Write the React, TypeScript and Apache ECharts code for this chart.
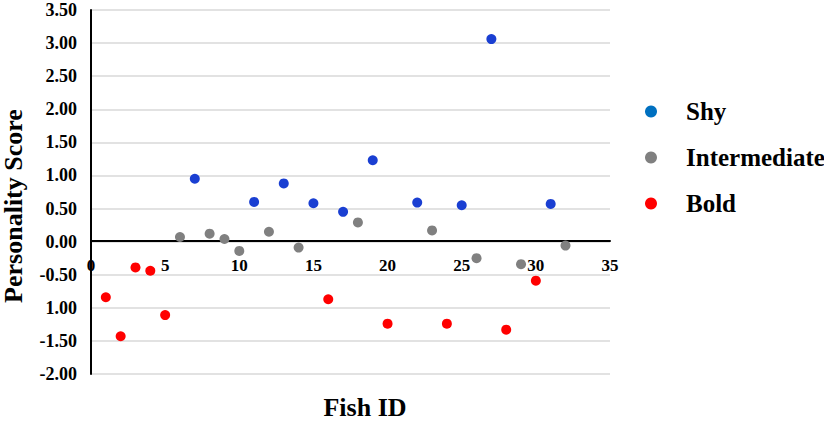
import React, { useEffect, useRef } from "react";
import * as echarts from "echarts";

const shyIds = [7, 11, 13, 15, 17, 19, 22, 25, 27, 31];
const shyScores = [0.95, 0.6, 0.88, 0.58, 0.45, 1.23, 0.59, 0.55, 3.06, 0.57];

const interIds = [6, 8, 9, 10, 12, 14, 18, 23, 26, 29, 32];
const interScores = [0.07, 0.12, 0.04, -0.14, 0.15, -0.09, 0.29, 0.17, -0.25, -0.34, -0.06];

const boldIds = [1, 2, 3, 4, 5, 16, 20, 24, 28, 30];
const boldScores = [-0.84, -1.43, -0.39, -0.44, -1.11, -0.87, -1.24, -1.24, -1.33, -0.59];

const seriesNames = ["Shy", "Intermediate", "Bold"];
const pointColors = ["#1a3fd2", "#808080", "#ff0000"];
const legendColors = ["#0070c0", "#808080", "#ff0000"];

const FONT = "Liberation Serif";

function pairs(ids: number[], vals: number[]) {
  return ids.map((id, i) => [id, vals[i]]);
}

export default function App() {
  const ref = useRef<HTMLDivElement>(null);
  useEffect(() => {
    document.body.style.margin = "0";
    if (!ref.current) return;
    const chart = echarts.init(ref.current, undefined, { renderer: "svg" });
    const data = [
      pairs(shyIds, shyScores),
      pairs(interIds, interScores),
      pairs(boldIds, boldScores),
    ];
    chart.setOption({
      animation: false,
      backgroundColor: "#ffffff",
      textStyle: { fontFamily: FONT },
      grid: { left: 91, right: 214, top: 10, bottom: 48 },
      xAxis: {
        type: "value",
        min: 0,
        max: 35,
        interval: 5,
        position: "bottom",
        offset: -133,
        axisLine: { show: true, onZero: false, lineStyle: { color: "#000", width: 2 } },
        axisTick: { show: false },
        splitLine: { show: false },
        axisLabel: {
          margin: 16,
          fontFamily: FONT,
          fontWeight: "bold",
          fontSize: 17,
          color: "#000",
        },
      },
      yAxis: {
        type: "value",
        min: -2,
        max: 3.5,
        interval: 0.5,
        axisLine: { show: true, onZero: false, lineStyle: { color: "#000", width: 2 } },
        axisTick: { show: false },
        splitLine: { show: true, lineStyle: { color: "#d9d9d9", width: 1.5 } },
        axisLabel: {
          margin: 14,
          fontFamily: FONT,
          fontWeight: "bold",
          fontSize: 18,
          color: "#000",
          formatter: (v: number) => (Math.abs(v + 1) < 1e-9 ? "1.00" : v.toFixed(2)),
        },
      },
      legend: {
        orient: "vertical",
        left: 640,
        top: 94,
        icon: "circle",
        itemWidth: 12,
        itemHeight: 12,
        itemGap: 21,
        textStyle: {
          fontFamily: FONT,
          fontWeight: "bold",
          fontSize: 25,
          color: "#000",
          padding: [0, 0, 0, 24],
        },
        data: seriesNames.map((n, i) => ({ name: n, itemStyle: { color: legendColors[i] } })),
      },
      graphic: [
        {
          type: "text",
          x: 13,
          y: 206,
          rotation: Math.PI / 2,
          style: {
            text: "Personality Score",
            fontFamily: FONT,
            fontWeight: "bold",
            fontSize: 26,
            fill: "#000",
            align: "center",
            verticalAlign: "middle",
          },
        },
        {
          type: "text",
          x: 365,
          y: 407,
          style: {
            text: "Fish ID",
            fontFamily: FONT,
            fontWeight: "bold",
            fontSize: 26,
            fill: "#000",
            align: "center",
            verticalAlign: "middle",
          },
        },
      ],
      series: seriesNames.map((n, i) => ({
        name: n,
        type: "scatter",
        symbol: "circle",
        symbolSize: 10,
        itemStyle: { color: pointColors[i], opacity: 1 },
        data: data[i],
      })),
    });
    return () => chart.dispose();
  }, []);
  return <div ref={ref} style={{ width: 824, height: 422 }} />;
}
